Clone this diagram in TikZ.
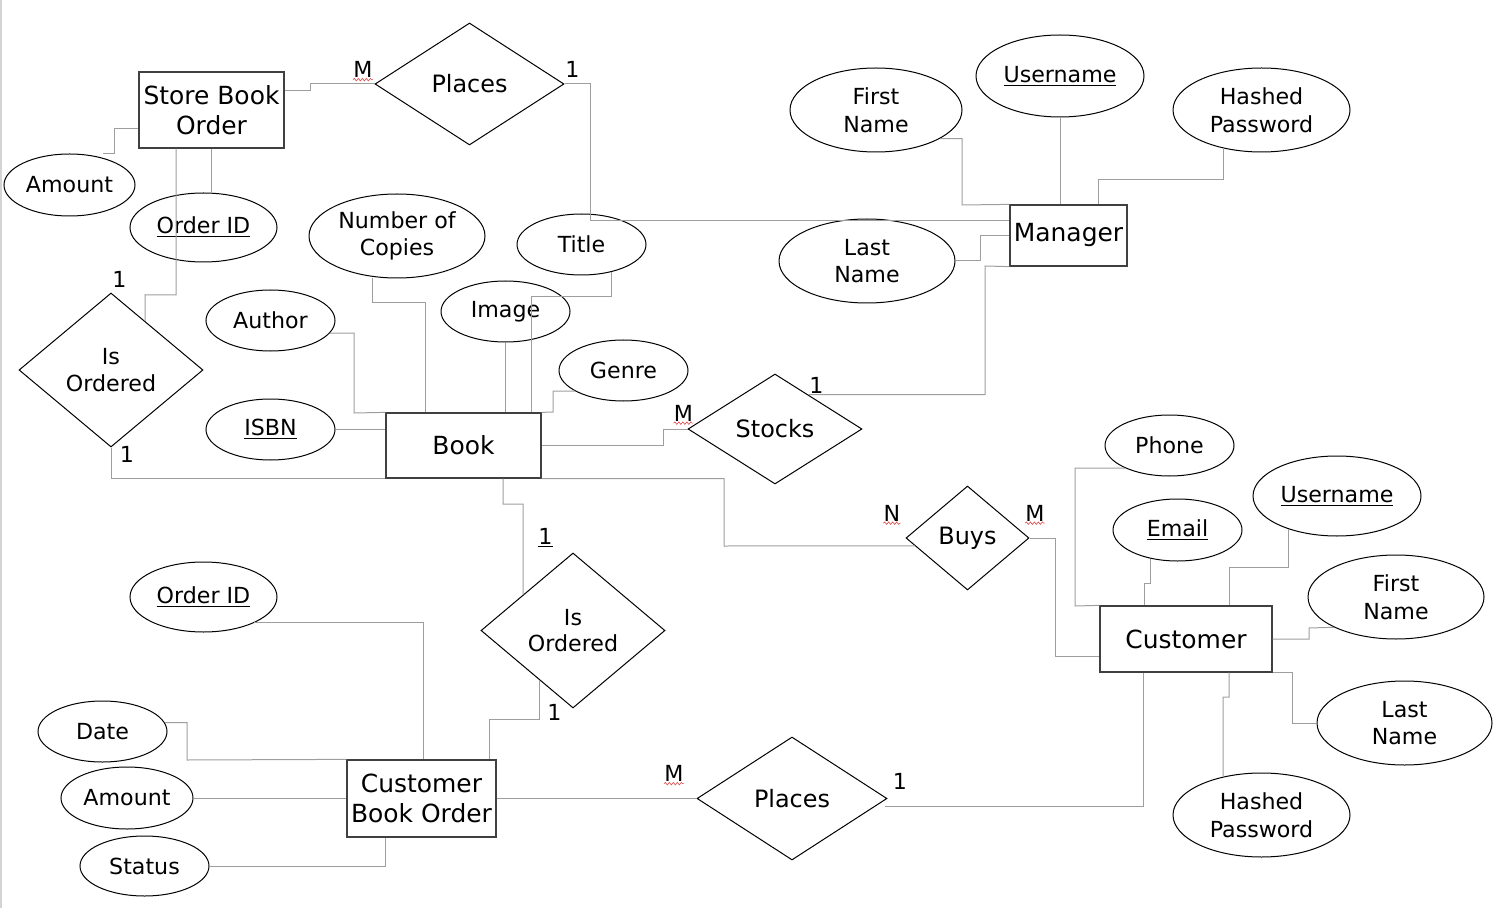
\documentclass[tikz,border=0pt]{standalone}
\usepackage{fontspec}
\setmainfont{DejaVu Sans}
\usetikzlibrary{
  calc,
  shapes.geometric,
  decorations.pathmorphing
}
\definecolor{LinkGray}{RGB}{158,158,158}
\definecolor{BoxGray}{RGB}{64,64,64}
\definecolor{SpellRed}{RGB}{225,70,70}
\definecolor{PageGray}{RGB}{212,212,212}
\tikzset{
  entity/.style={draw=BoxGray,line width=0.25mm,inner sep=0pt,align=center,font=\fontsize{14.2}{17}\selectfont},
  attr/.style={ellipse,draw=black,line width=0.2mm,inner sep=0pt,minimum width=25.8mm,minimum height=12.2mm,align=center,font=\fontsize{12.6}{15.7}\selectfont},
  relation/.style={diamond,draw=black,line width=0.2mm,inner sep=0pt,align=center,font=\fontsize{13.6}{15.2}\selectfont},
  card/.style={inner sep=0pt,font=\fontsize{12.6}{14}\selectfont},
  link/.style={draw=LinkGray,line width=0.2mm},
  spell/.style={draw=SpellRed,line width=0.12mm,decorate,decoration={snake,amplitude=0.25mm,segment length=0.8mm}}
}

\begin{document}
\begin{tikzpicture}[x=0.2mm,y=-0.2mm]
\useasboundingbox (0,0) rectangle (1506,908);
\draw[draw=PageGray,line width=0.45mm] (1.2,0) -- (1.2,908);
% entities
\node[entity,minimum width=29mm,minimum height=15.2mm] (sbo) at (211.5,110) {Store Book\\Order};
\node[entity,minimum width=23.4mm,minimum height=12.2mm] (mgr) at (1068.5,235.5) {Manager};
\node[entity,minimum width=31mm,minimum height=13mm] (book) at (463.5,445.5) {Book};
\node[entity,minimum width=34.4mm,minimum height=13.2mm] (cust) at (1186,639) {Customer};
\node[entity,minimum width=29.8mm,minimum height=15.4mm] (cbo) at (421.5,798.5) {Customer\\Book Order};
% relationships
\node[relation,minimum width=37.8mm,minimum height=24.4mm] (placesT) at (469.5,84) {Places};
\node[relation,minimum width=36.8mm,minimum height=30.8mm,font=\fontsize{12.6}{15.2}\selectfont] (isoL) at (111,370) {Is\\Ordered};
\node[relation,minimum width=34.8mm,minimum height=22mm] (stocks) at (775,429) {Stocks};
\node[relation,minimum width=24.6mm,minimum height=20.8mm] (buys) at (967.5,538) {Buys};
\node[relation,minimum width=36.8mm,minimum height=31mm,font=\fontsize{12.6}{15.2}\selectfont] (isoB) at (573,630.5) {Is\\Ordered};
\node[relation,minimum width=38mm,minimum height=24.6mm] (placesB) at (792,798.5) {Places};
% attributes: store book order
\node[attr,minimum width=26.2mm,minimum height=12.4mm] (amtT) at (69.5,185) {Amount};
\node[attr,minimum width=29.4mm,minimum height=13.8mm] (oidT) at (203.5,227.5) {\underline{Order ID}};
% attributes: book
\node[attr,minimum width=35.2mm,minimum height=16.8mm] (copies) at (397,236) {Number of\\Copies};
\node[attr] (title) at (581.5,244.5) {Title};
\node[attr] (image) at (505.5,311.5) {Image};
\node[attr] (author) at (270.5,320.5) {Author};
\node[attr] (isbn) at (270.5,429.5) {\underline{ISBN}};
\node[attr] (genre) at (623.5,370.5) {Genre};
% attributes: manager
\node[attr,minimum width=34.4mm,minimum height=16.8mm] (mfirst) at (876,110) {First\\Name};
\node[attr,minimum width=33.6mm,minimum height=16.4mm] (muser) at (1060,76) {\underline{Username}};
\node[attr,minimum width=35.4mm,minimum height=16.8mm] (mhash) at (1261.5,110) {Hashed\\Password};
\node[attr,minimum width=35.2mm,minimum height=16.8mm] (mlast) at (867,261) {Last\\Name};
% attributes: customer
\node[attr] (phone) at (1169.5,445.5) {Phone};
\node[attr,minimum height=12.4mm] (email) at (1177.5,530) {\underline{Email}};
\node[attr,minimum width=33.6mm,minimum height=16mm] (cuser) at (1337,496) {\underline{Username}};
\node[attr,minimum width=35.2mm,minimum height=16.8mm] (cfirst) at (1396,597) {First\\Name};
\node[attr,minimum width=35mm,minimum height=16.8mm] (clast) at (1404.5,723) {Last\\Name};
\node[attr,minimum width=35.4mm,minimum height=16.8mm] (chash) at (1261.5,815) {Hashed\\Password};
% attributes: customer book order
\node[attr,minimum width=29.4mm,minimum height=14mm] (oidB) at (203.5,597) {\underline{Order ID}};
\node[attr] (date) at (102.5,731.5) {Date};
\node[attr,minimum width=26.4mm,minimum height=12.4mm] (amtB) at (127,798) {Amount};
\node[attr,minimum height=12mm] (status) at (144.5,866) {Status};
% cardinalities
\node[card] (cPT1) at (363,69.5) {M};
\node[card] (cPT2) at (572.5,69.5) {1};
\node[card] (cIL1) at (119.5,279.5) {1};
\node[card] (cIL2) at (127,454.5) {1};
\node[card] (cST1) at (683.5,413) {M};
\node[card] (cST2) at (816.5,385.5) {1};
\node[card] (cBU1) at (892,513) {N};
\node[card] (cBU2) at (1035,513) {M};
\node[card] (cIB1) at (545.5,538) {\underline{1}};
\node[card] (cIB2) at (554.5,712) {1};
\node[card] (cPB1) at (674,773.5) {M};
\node[card] (cPB2) at (900,781.5) {1};
\draw[spell] ([yshift=-0.35mm]cPT1.south west) -- ([yshift=-0.35mm]cPT1.south east);
\draw[spell] ([yshift=-0.35mm]cST1.south west) -- ([yshift=-0.35mm]cST1.south east);
\draw[spell] ([yshift=-0.35mm]cBU1.south west) -- ([yshift=-0.35mm]cBU1.south east);
\draw[spell] ([yshift=-0.35mm]cBU2.south west) -- ([yshift=-0.35mm]cBU2.south east);
\draw[spell] ([yshift=-0.35mm]cPB1.south west) -- ([yshift=-0.35mm]cPB1.south east);
% store book order links
\draw[link] (sbo.east |- 0,91) -- (310,91) |- (placesT.west);
\draw[link] (placesT.east) -| (590,221) -- (mgr.west |- 0,221);
\draw[link] (amtT.north -| 103,0) -| (114,129) -- (sbo.west |- 0,129);
\draw[link] (sbo.south) -- (sbo.south |- oidT.north);
\draw[link] (sbo.south -| 176,0) |- (145,295) -- ($(isoL.north)!0.37!(isoL.east)$);
% book links
\draw[link] (isoL.south) |- (book.south west);
\draw[link] (book.south east) -| (724,546) -- ($(buys.west)!0.15!(buys.south)$);
\draw[link] (isbn.east) -- (book.west |- isbn.east);
\draw[link] (author.-12) -| (354,413) -- (book.north west);
\draw[link] (copies.south -| 372,0) |- (425,303) -- (book.north -| 425,0);
\draw[link] (image.south) -- (image.south |- book.north);
\draw[link] (title.-43) |- (531,297) -- (book.north -| 531,0);
\draw[link] (genre.203) -| (553,412) -- (book.north east);
\draw[link] (book.east) -| (663,429) -- (stocks.west);
\draw[link] (book.south -| 503,0) |- (523,504) -- ($(isoB.west)!0.46!(isoB.north)$);
% manager links
\draw[link] ($(stocks.north)!0.38!(stocks.east)$) -| (985,266) -- (mgr.south west);
\draw[link] (mfirst.-24) -| (962,205) -- (mgr.north west);
\draw[link] (muser.south) -- (muser.south |- mgr.north);
\draw[link] (mhash.225) |- (1098,180) -- (mgr.north -| 1098,0);
\draw[link] (mlast.east) -| (980,236) -- (mgr.west |- 0,236);
% customer links
\draw[link] (buys.east) -| (1055,656) -- (cust.west |- 0,656);
\draw[link] (phone.207) -| (1075,606) -- (cust.north west);
\draw[link] (email.227) |- (1144,583) -- (cust.north -| 1144,0);
\draw[link] (cuser.214) |- (1229,567) -- (cust.north -| 1229,0);
\draw[link] (cust.east) -| (1309,628) -- (cfirst.206);
\draw[link] (cust.south east) -| (1292,723) -- (clast.west);
\draw[link] (cust.south -| 1229,0) |- (1223,697) -- (chash.135);
\draw[link] (cust.south -| 1143,0) |- ($(placesB.east)+(-3,8)$);
% customer book order links
\draw[link] (cbo.east) -- (placesB.west);
\draw[link] ($(isoB.west)!0.64!(isoB.south)$) |- (489,719) -- (cbo.north -| 489,0);
\draw[link] (oidB.-27) -| (cbo.north -| 423,0);
\draw[link] (date.8) -| (187,760) -- (cbo.north west);
\draw[link] (amtB.east) -- (cbo.west |- amtB.east);
\draw[link] (status.east) -| (cbo.south -| 385,0);
\end{tikzpicture}
\end{document}
